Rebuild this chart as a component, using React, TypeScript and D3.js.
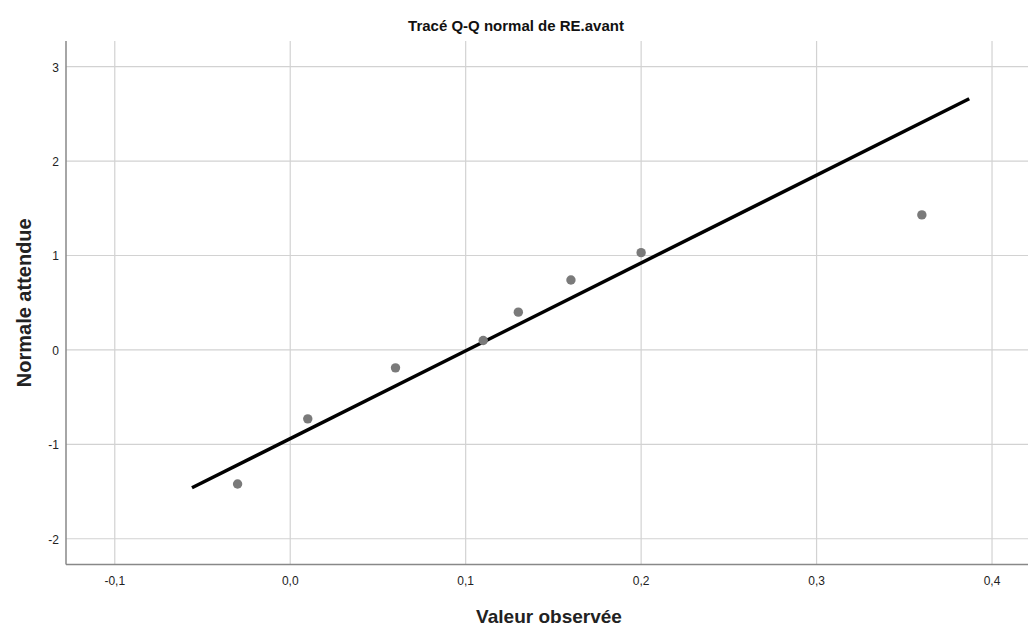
import React, { useEffect, useRef } from "react";
import * as d3 from "d3";

// observed values and expected normal quantiles
const observed = [-0.03, 0.01, 0.06, 0.11, 0.13, 0.16, 0.2, 0.36];
const expected = [-1.42, -0.73, -0.19, 0.1, 0.4, 0.74, 1.03, 1.43];

// reference line end points
const lineX = [-0.056, 0.387];
const lineY = [-1.46, 2.66];

const xTicks = [-0.1, 0.0, 0.1, 0.2, 0.3, 0.4];
const yTicks = [-2, -1, 0, 1, 2, 3];

const title = "Tracé Q-Q normal de RE.avant";
const xTitle = "Valeur observée";
const yTitle = "Normale attendue";

const W = 1028;
const H = 627;

const App = () => {
  const ref = useRef<SVGSVGElement | null>(null);

  useEffect(() => {
    const svg = d3.select(ref.current);
    svg.selectAll("*").remove();

    const left = 66;
    const right = 1028;
    const top = 41;
    const bottom = 564.5;

    const x = d3.scaleLinear().domain([-0.1278, 0.4205]).range([left, right]);
    const y = d3.scaleLinear().domain([-2.273, 3.272]).range([bottom, top]);

    const font = "'Liberation Sans', Arial, sans-serif";
    const fmt = (d: number) => d3.format(".1f")(d).replace(".", ",").replace("−", "-");

    // grid
    svg
      .append("g")
      .selectAll("line")
      .data(xTicks)
      .join("line")
      .attr("x1", (d) => x(d))
      .attr("x2", (d) => x(d))
      .attr("y1", top)
      .attr("y2", bottom)
      .attr("stroke", "#d2d2d2")
      .attr("stroke-width", 1.2);

    svg
      .append("g")
      .selectAll("line")
      .data(yTicks)
      .join("line")
      .attr("x1", left)
      .attr("x2", right)
      .attr("y1", (d) => y(d))
      .attr("y2", (d) => y(d))
      .attr("stroke", "#d2d2d2")
      .attr("stroke-width", 1.2);

    // axes lines
    svg
      .append("line")
      .attr("x1", left)
      .attr("x2", left)
      .attr("y1", top)
      .attr("y2", bottom)
      .attr("stroke", "#888")
      .attr("stroke-width", 1.5);
    svg
      .append("line")
      .attr("x1", left)
      .attr("x2", right)
      .attr("y1", bottom)
      .attr("y2", bottom)
      .attr("stroke", "#888")
      .attr("stroke-width", 1.5);

    // tick labels
    svg
      .append("g")
      .selectAll("text")
      .data(xTicks)
      .join("text")
      .attr("x", (d) => x(d))
      .attr("y", 585)
      .attr("text-anchor", "middle")
      .attr("font-family", font)
      .attr("font-size", 12)
      .attr("fill", "#222")
      .text((d) => fmt(d));

    svg
      .append("g")
      .selectAll("text")
      .data(yTicks)
      .join("text")
      .attr("x", 59)
      .attr("y", (d) => y(d) + 5)
      .attr("text-anchor", "end")
      .attr("font-family", font)
      .attr("font-size", 12)
      .attr("fill", "#222")
      .text((d) => String(d));

    // reference line
    const line = d3
      .line<number>()
      .x((d) => x(d))
      .y((_, i) => y(lineY[i]));
    svg
      .append("path")
      .datum(lineX)
      .attr("d", line)
      .attr("fill", "none")
      .attr("stroke", "#000")
      .attr("stroke-width", 3.5);

    // points
    svg
      .append("g")
      .selectAll("circle")
      .data(observed)
      .join("circle")
      .attr("cx", (d) => x(d))
      .attr("cy", (_, i) => y(expected[i]))
      .attr("r", 4.7)
      .attr("fill", "#7a7a7a");

    // titles
    svg
      .append("text")
      .attr("x", 516)
      .attr("y", 31)
      .attr("text-anchor", "middle")
      .attr("font-family", font)
      .attr("font-size", 15)
      .attr("font-weight", "bold")
      .attr("fill", "#111")
      .text(title);

    svg
      .append("text")
      .attr("x", 549)
      .attr("y", 623)
      .attr("text-anchor", "middle")
      .attr("font-family", font)
      .attr("font-size", 19)
      .attr("font-weight", "bold")
      .attr("fill", "#222")
      .text(xTitle);

    svg
      .append("text")
      .attr("transform", `translate(31,${(top + bottom) / 2}) rotate(-90)`)
      .attr("text-anchor", "middle")
      .attr("font-family", font)
      .attr("font-size", 20)
      .attr("font-weight", "bold")
      .attr("fill", "#222")
      .text(yTitle);
  }, []);

  return (
    <svg
      ref={ref}
      width={W}
      height={H}
      style={{ position: "absolute", left: 0, top: 0, background: "#fff" }}
    />
  );
};

export default App;
